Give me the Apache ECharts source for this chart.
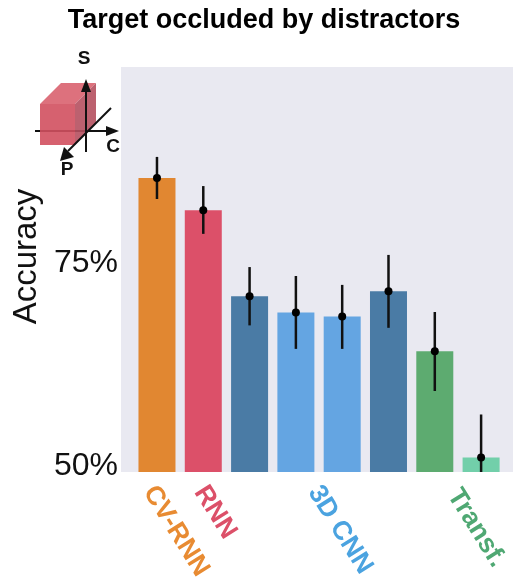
<!DOCTYPE html>
<html><head><meta charset="utf-8">
<style>html,body{margin:0;padding:0;background:#fff}#c{width:513px;height:584px}</style>
<script src="https://cdn.jsdelivr.net/npm/echarts@6/dist/echarts.min.js"></script></head>
<body><div id="c"></div>
<script>
const models = ['CV-RNN','RNN','3D-1','3D-2','3D-3','3D-4','Transf-1','Transf-2'];
const accuracy = [86.3,82.3,71.7,69.7,69.2,72.3,64.9,51.8];
const errLow = [83.7,79.4,68.1,65.2,65.2,67.8,60.0,50.0];
const errHigh = [88.9,85.3,75.3,74.2,73.1,76.8,69.75,57.1];
const barColors = ['#e18731','#dc5069','#4a7ba5','#64a5e2','#64a5e2','#4a7ba5','#5dab70','#72cfaa'];
const groupLabels = ['CV-RNN','RNN','3D CNN','Transf.'];
const groupPos = [-0.17,0.93,3.39,6.40];
const groupY = [50,50,50,49.6];
const groupColors = ['#e88b32','#dc5069','#4ba3e0','#4fa873'];
const yTicks = [50,75];
const titleText = 'Target occluded by distractors';
const F = '"Liberation Sans", Arial, sans-serif';

const chart = echarts.init(document.getElementById('c'), null, {renderer:'canvas'});
chart.setOption({
  animation:false,
  backgroundColor:'#fff',
  title:{text:titleText,left:259,top:2,textAlign:'center',textStyle:{fontFamily:F,fontWeight:'bold',fontSize:27,color:'#000'}},
  grid:{left:121,top:67,right:0,bottom:112,show:true,backgroundColor:'#e9e9f1',borderWidth:0},
  xAxis:{type:'value',min:-0.777,max:7.689,show:false},
  yAxis:{type:'value',min:50,max:100,interval:25,
    axisLine:{show:false},axisTick:{show:false},splitLine:{show:false},
    axisLabel:{fontFamily:F,fontSize:32,color:'#111',margin:3,verticalAlign:'bottom',lineHeight:32,padding:[0,0,-10,0],
      formatter:v=>yTicks.includes(v)?v+'%':''},
    name:'Accuracy',nameLocation:'middle',nameGap:68,nameRotate:90,
    nameTextStyle:{fontFamily:F,fontSize:33,color:'#111',padding:[0,0,0,26]}},
  series:[
    {type:'bar',barWidth:37,data:accuracy.map((v,i)=>({value:[i,v],itemStyle:{color:barColors[i]}})),z:2},
    {type:'custom',z:3,data:accuracy.map((v,i)=>[i,v,errLow[i],errHigh[i]]),
     renderItem:(p,api)=>{
       const a=api.coord([api.value(0),api.value(2)]),b=api.coord([api.value(0),api.value(3)]),c=api.coord([api.value(0),api.value(1)]);
       return {type:'group',children:[
         {type:'line',shape:{x1:a[0],y1:a[1],x2:b[0],y2:b[1]},style:{stroke:'#111',lineWidth:2.5}},
         {type:'circle',shape:{cx:c[0],cy:c[1],r:4},style:{fill:'#000'}}]};
     }},
    {type:'custom',z:3,clip:false,data:groupLabels.map((t,i)=>[groupPos[i],groupY[i],i]),
     renderItem:(p,api)=>{
       const i=api.value(2),c=api.coord([api.value(0),api.value(1)]);
       return {type:'text',x:c[0],y:c[1]+16,rotation:-58*Math.PI/180,
         style:{text:groupLabels[i],fill:groupColors[i],font:'bold 26.5px '+F,textAlign:'left',textVerticalAlign:'middle'}};
     }}
  ],
  graphic:[
    {type:'line',shape:{x1:35,y1:131,x2:108,y2:131},style:{stroke:'#111',lineWidth:2},z:1},
    {type:'polygon',shape:{points:[[40,104],[75,104],[75,145],[40,145]]},style:{fill:'#d2505f',opacity:.9},z:2},
    {type:'polygon',shape:{points:[[40,104],[61,83],[96,83],[75,104]]},style:{fill:'#d9626f',opacity:.9},z:2},
    {type:'polygon',shape:{points:[[75,104],[96,83],[96,123],[75,145]]},style:{fill:'#b5505f',opacity:.9},z:2},
    {type:'line',shape:{x1:86,y1:152,x2:86,y2:88},style:{stroke:'#111',lineWidth:2},z:5},
    {type:'polygon',shape:{points:[[86,79],[81,92],[91,92]]},style:{fill:'#111'},z:5},
    {type:'polygon',shape:{points:[[119,131],[106,126],[106,136]]},style:{fill:'#111'},z:5},
    {type:'line',shape:{x1:111,y1:108,x2:68,y2:151},style:{stroke:'#111',lineWidth:2},z:5},
    {type:'polygon',shape:{points:[[60,161],[64,147],[74,157]]},style:{fill:'#111'},z:5},
    {type:'text',style:{x:84,y:59,text:'S',fill:'#111',font:'bold 19px '+F,textAlign:'center',textVerticalAlign:'middle'},z:6},
    {type:'text',style:{x:113,y:147,text:'C',fill:'#111',font:'bold 19px '+F,textAlign:'center',textVerticalAlign:'middle'},z:6},
    {type:'text',style:{x:67,y:170,text:'P',fill:'#111',font:'bold 19px '+F,textAlign:'center',textVerticalAlign:'middle'},z:6}
  ]
});
</script></body></html>
